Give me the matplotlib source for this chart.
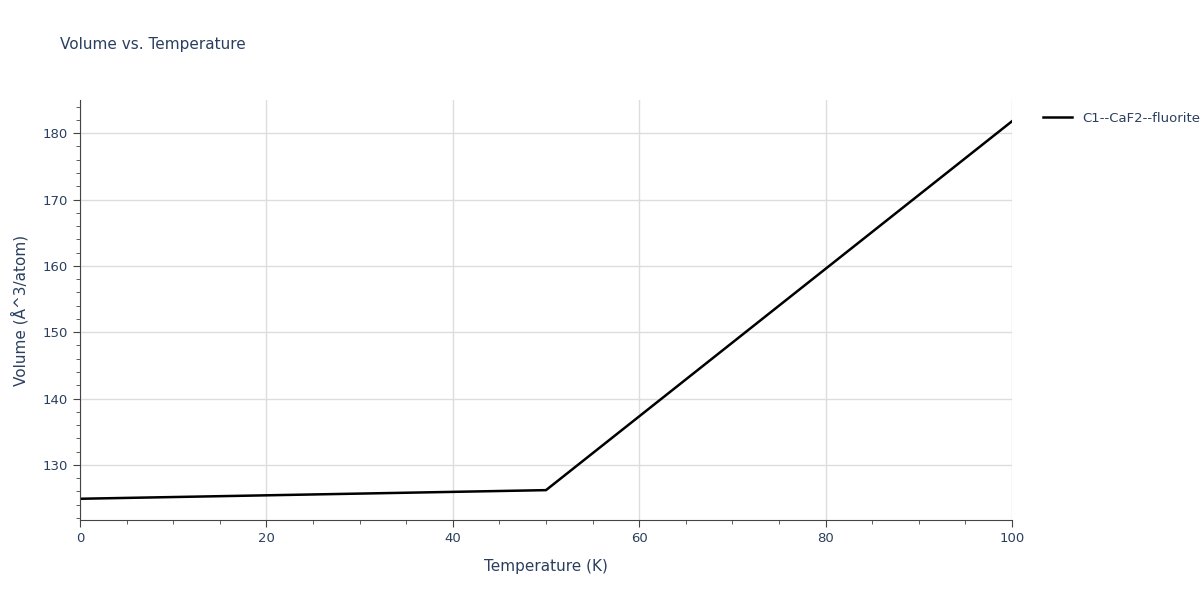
import matplotlib
matplotlib.use("Agg")
import matplotlib.pyplot as plt
from matplotlib.ticker import MultipleLocator

temps = [0, 50, 100]
volumes = [124.9, 126.2, 181.8]
label = "C1--CaF2--fluorite"

fig = plt.figure(figsize=(12, 6), dpi=100)
ax = fig.add_axes([80/1200, 80/600, 932/1200, 420/600])
ax.plot(temps, volumes, color="black", lw=1.8, label=label)
ax.set_xlim(0, 100)
ax.set_ylim(121.7, 185.0)
ax.xaxis.set_major_locator(MultipleLocator(20))
ax.xaxis.set_minor_locator(MultipleLocator(5))
ax.yaxis.set_major_locator(MultipleLocator(10))
ax.yaxis.set_minor_locator(MultipleLocator(2))
ax.grid(True, which="major", color="#dddddd", lw=1)
for s in ["top", "right"]:
    ax.spines[s].set_visible(False)
for s in ["left", "bottom"]:
    ax.spines[s].set_color("#444444")
tc = "#2a3f5f"
ax.tick_params(which="major", length=5, colors="#444444", labelcolor=tc, labelsize=9.5)
ax.tick_params(which="minor", length=3, colors="#444444")
ax.set_xlabel("Temperature (K)", color=tc, fontsize=11, labelpad=10)
ax.set_ylabel("Volume (Å^3/atom)", color=tc, fontsize=11, labelpad=10)
fig.text(60/1200, 1 - 45/600, "Volume vs. Temperature", color=tc, fontsize=11, va="center")
ax.legend(loc="upper left", bbox_to_anchor=(1.02, 1.0), frameon=False, fontsize=9.5, labelcolor=tc, handlelength=2.2)
fig.savefig("out.png")
